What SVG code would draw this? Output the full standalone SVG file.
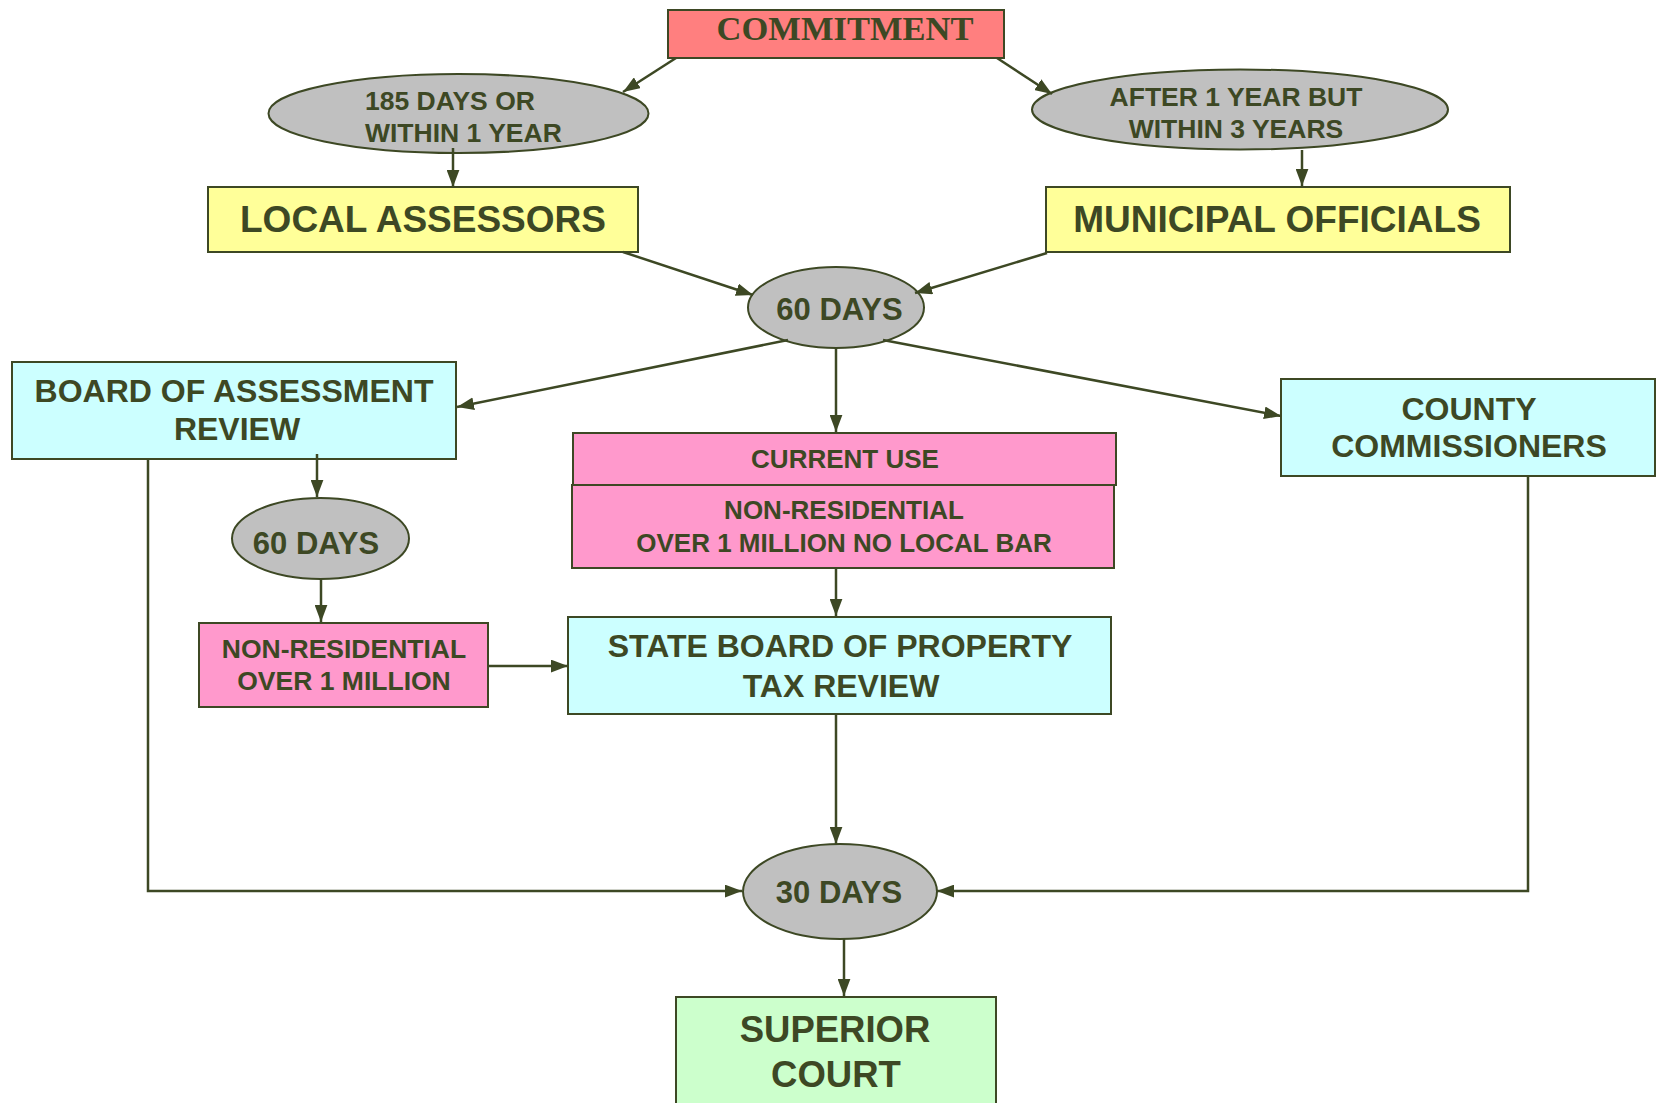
<svg xmlns="http://www.w3.org/2000/svg" width="1656" height="1103" viewBox="0 0 1656 1103">
<defs>
<style>
.box{stroke:#3d4824;stroke-width:2}
.ell{fill:#c0c0c0;stroke:#3d4824;stroke-width:2}
.t{font-family:"Liberation Sans",Arial,sans-serif;font-weight:bold;fill:#3d4824;text-anchor:middle}
.conn path{fill:none;stroke:#3d4824;stroke-width:2.5;marker-end:url(#ah)}
</style>
<marker id="ah" viewBox="0 0 16 12" refX="16" refY="6" markerWidth="17" markerHeight="13" markerUnits="userSpaceOnUse" orient="auto">
<path d="M0,0 L16,6 L0,12 z" fill="#3d4824"/>
</marker>
</defs>
<rect width="1656" height="1103" fill="#ffffff"/>

<g id="commitment">
<rect class="box" x="668" y="10" width="336" height="48" fill="#ff7f7f"/>
<text x="845" y="40" style="font-family:'Liberation Serif','Times New Roman',serif;font-weight:bold;font-size:34.5px;fill:#3d4824" text-anchor="middle">COMMITMENT</text>
</g>

<g id="within1year">
<ellipse class="ell" cx="458.5" cy="113.5" rx="190" ry="39.5"/>
<text class="t" x="365" y="110" font-size="26.5" style="text-anchor:start">185 DAYS OR</text>
<text class="t" x="365" y="142" font-size="26.5" style="text-anchor:start">WITHIN 1 YEAR</text>
</g>

<g id="within3years">
<ellipse class="ell" cx="1240" cy="109.5" rx="208" ry="40"/>
<text class="t" x="1236" y="106" font-size="26.5">AFTER 1 YEAR BUT</text>
<text class="t" x="1236" y="138" font-size="26.5">WITHIN 3 YEARS</text>
</g>

<g id="local-assessors">
<rect class="box" x="208" y="187" width="430" height="65" fill="#ffff99"/>
<text class="t" x="423" y="232" font-size="37">LOCAL ASSESSORS</text>
</g>

<g id="municipal-officials">
<rect class="box" x="1046" y="187" width="464" height="65" fill="#ffff99"/>
<text class="t" x="1277" y="232" font-size="37">MUNICIPAL OFFICIALS</text>
</g>

<g id="days60-top">
<ellipse class="ell" cx="836" cy="307.5" rx="88" ry="40.5"/>
<text class="t" x="839.5" y="320" font-size="31">60 DAYS</text>
</g>

<g id="board-assessment-review">
<rect class="box" x="12" y="362" width="444" height="97" fill="#ccffff"/>
<text class="t" x="234" y="402" font-size="32">BOARD OF ASSESSMENT</text>
<text class="t" x="237" y="440" font-size="32">REVIEW</text>
</g>

<g id="days60-left">
<ellipse class="ell" cx="320.5" cy="538.5" rx="88.5" ry="40.5"/>
<text class="t" x="316" y="554" font-size="31">60 DAYS</text>
</g>

<g id="nonres-1m">
<rect class="box" x="199" y="623" width="289" height="84" fill="#ff99cc"/>
<text class="t" x="344" y="658" font-size="26.5">NON-RESIDENTIAL</text>
<text class="t" x="344" y="690" font-size="26.5">OVER 1 MILLION</text>
</g>

<g id="current-use">
<rect class="box" x="573" y="433" width="543" height="52" fill="#ff99cc"/>
<text class="t" x="845" y="468" font-size="26">CURRENT USE</text>
</g>

<g id="nonres-no-local-bar">
<rect class="box" x="572" y="485" width="542" height="83" fill="#ff99cc"/>
<text class="t" x="844" y="519" font-size="26">NON-RESIDENTIAL</text>
<text class="t" x="844" y="552" font-size="26">OVER 1 MILLION NO LOCAL BAR</text>
</g>

<g id="state-board">
<rect class="box" x="568" y="617" width="543" height="97" fill="#ccffff"/>
<text class="t" x="840" y="657" font-size="32">STATE BOARD OF PROPERTY</text>
<text class="t" x="841" y="697" font-size="32">TAX REVIEW</text>
</g>

<g id="county-commissioners">
<rect class="box" x="1281" y="379" width="374" height="97" fill="#ccffff"/>
<text class="t" x="1469" y="420" font-size="32">COUNTY</text>
<text class="t" x="1469" y="457" font-size="32">COMMISSIONERS</text>
</g>

<g id="days30">
<ellipse class="ell" cx="840" cy="891.5" rx="97" ry="47.5"/>
<text class="t" x="839" y="903" font-size="31">30 DAYS</text>
</g>

<g id="superior-court">
<rect class="box" x="676" y="997" width="320" height="120" fill="#ccffcc"/>
<text class="t" x="835" y="1042" font-size="36.5">SUPERIOR</text>
<text class="t" x="836" y="1087" font-size="36.5">COURT</text>
</g>

<g id="connectors" class="conn">
<path d="M676,58 L623,92"/>
<path d="M997,58 L1052,94"/>
<path d="M453,148 L453,187"/>
<path d="M1302,150 L1302,186"/>
<path d="M623,252 L753,295"/>
<path d="M1047,253 L915,293"/>
<path d="M788,340 L457,407"/>
<path d="M836,348 L836,432"/>
<path d="M883,340 L1281,416"/>
<path d="M317,454 L317,497"/>
<path d="M321,580 L321,622"/>
<path d="M488,666 L568,666"/>
<path d="M836,568 L836,616"/>
<path d="M836,714 L836,844"/>
<path d="M148,459 L148,891 L742,891"/>
<path d="M1528,476 L1528,891 L937,891"/>
<path d="M844,939 L844,996"/>
</g>
</svg>
